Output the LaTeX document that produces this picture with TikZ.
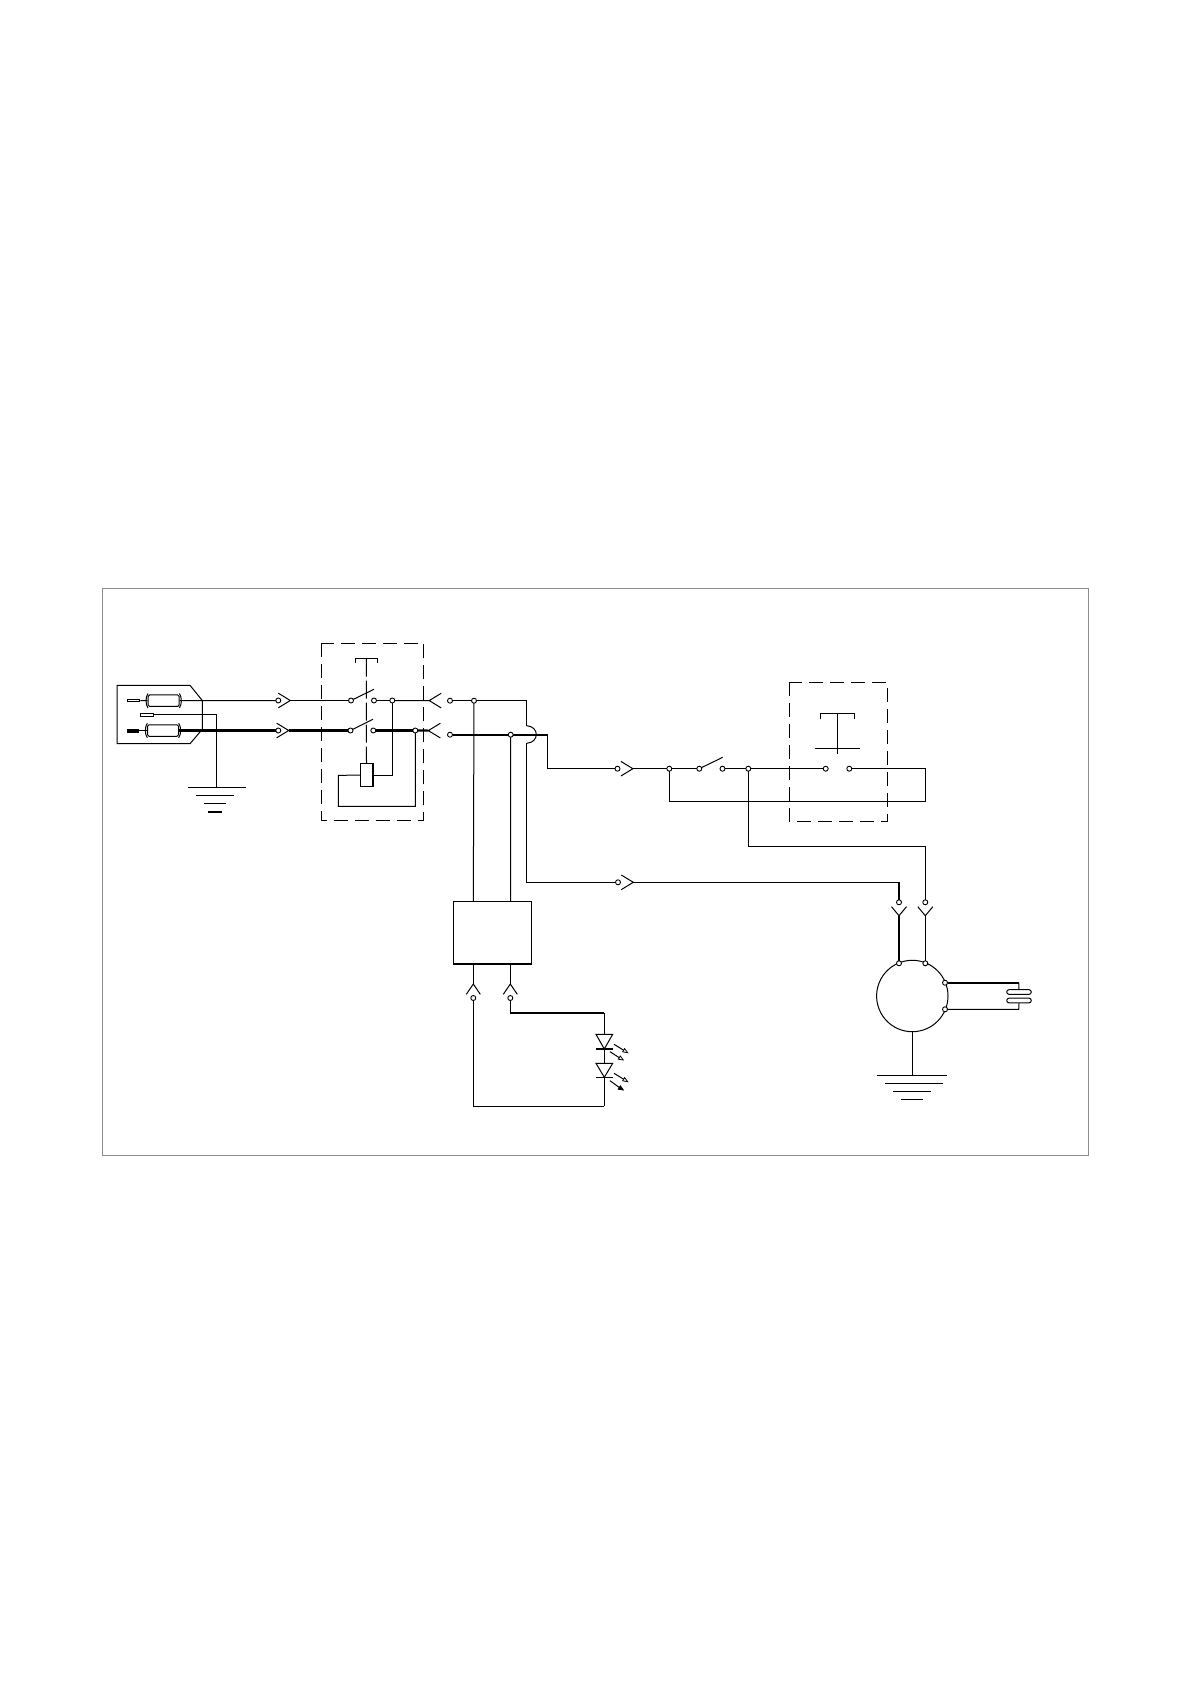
\documentclass[tikz,border=0pt]{standalone}
\usetikzlibrary{calc}
\tikzset{
  wire/.style={line width=1pt,black,line join=miter},
  fat/.style={line width=2.2pt,black},
  term/.style={circle,draw=black,fill=white,line width=0.9pt,inner sep=0pt,minimum size=5pt,outer sep=0pt},
  dashbox/.style={line width=1.1pt,black,dash pattern=on 14pt off 7pt},
  fusebox/.style={draw=black,line width=1pt,rounded corners=1.5pt,inner sep=0pt,minimum width=31pt,minimum height=11.5pt},
  pill/.style={draw=black,line width=1pt,rounded corners=2.2pt,inner sep=0pt,minimum width=24.5pt,minimum height=4.6pt},
  pin/.style={draw=black,line width=1pt,fill=white,inner sep=0pt,minimum width=12.5pt,minimum height=2.6pt},
  fatpin/.style={draw=black,fill=black,inner sep=0pt,minimum width=11.5pt,minimum height=3.6pt},
  coilbox/.style={draw=black,line width=1pt,inner sep=0pt,minimum width=12.4pt,minimum height=22.7pt},
  ctrlbox/.style={draw=black,line width=1pt,inner sep=0pt,minimum width=78pt,minimum height=61.4pt},
  motor/.style={circle,draw=black,line width=1pt,inner sep=0pt,minimum size=71.4pt},
  arr/.style={line width=1pt,black}
}
\newcommand{\chev}[2]{\draw[wire,shift={(#1)},rotate=#2] (-12,-7.3)--(0,0)--(-12,7.3);}
\newcommand{\ychev}[1]{\draw[wire,shift={(#1)}] (-7.5,-9)--(0,0)--(7.5,-9);}
\begin{document}
\begin{tikzpicture}[x=1pt,y=-1pt]
\useasboundingbox (0,0) rectangle (1192,1685);
\fill[white] (0,0) rectangle (1192,1685);
\draw[line width=1pt,color=black!45] (102.5,588.5) rectangle (1088.7,1155.5);

% plug block
\draw[wire] (190,685.3) -- (117,685.3) -- (117,743.7) -- (190,743.7) -- (202.3,729.3) -- (202.3,700.5) -- cycle;
\node[pin] (p1) at (133.7,700.5) {};
\node[pin] (p2) at (146.8,714.7) {};
\node[fatpin] (p3) at (132.8,730.5) {};
\node[fusebox] (f1) at (163.7,700.7) {};
\node[fusebox] (f2) at (163,730.5) {};
\foreach \f in {f1,f2}{
  \draw[wire] ($(\f.north west)+(0.3,-1)$) .. controls +(-2.6,3.5) and +(-2.6,-3.5) .. ($(\f.south west)+(0.3,1)$);
  \draw[wire] ($(\f.north east)+(-0.3,-1)$) .. controls +(2.6,3.5) and +(2.6,-3.5) .. ($(\f.south east)+(-0.3,1)$);
}
\draw[wire] (p1) -- (f1);
\draw[wire] (p3) -- (f2);

% ground 1
\coordinate (g1) at (216.3,787);
\draw[wire] (p2) -| (g1);
\draw[wire] (188,787) -- (245.7,787);
\draw[wire] (196.3,795.2) -- (234,795.2);
\draw[wire] (204,803.3) -- (225.7,803.3);
\draw[fat] (208.3,811.7) -- (221.7,811.7);

% terminals first row
\node[term] (t1) at (278.3,700.5) {};
\node[term] (t2) at (278.3,730.5) {};
\coordinate (c1) at (290.3,700.5);
\coordinate (c2) at (288.7,730.5);
\chev{c1}{0}
\chev{c2}{0}
\draw[wire] (f1.east) -- (t1);
\draw[fat] (f2.east) -- (t2);

% main switch box
\draw[dashbox] (321.7,643.3) rectangle (423.7,820.3);
\draw[wire] (355,662.7) -- (355,658.7) -- (377.3,658.7) -- (377.3,662.7);
\coordinate (stemTop) at (366.3,658.7);
\node[coilbox,anchor=north] (coil) at (366.5,763.3) {};
\draw[line width=1pt,black,dash pattern=on 18pt off 4pt] (stemTop) -- (coil.north);
\draw[fat] (coil.north east) -- (coil.south east);

\node[term] (s1a) at (351,700.5) {};
\node[term] (s1b) at (374,700.5) {};
\node[term] (s2a) at (350.5,730.5) {};
\node[term] (s2b) at (373.3,730.5) {};
\node[term] (j1) at (392.3,700.5) {};
\node[term] (j2) at (415.3,730.5) {};
\coordinate (b1) at (374,689.3);
\coordinate (b2) at (373,719.3);
\draw[wire] (s1a) -- (b1);
\draw[wire] (s2a) -- (b2);
\draw[wire] (c1) -- (s1a);
\draw[fat] (c2) -- (s2a);
\draw[wire] (s1b) -- (j1);
\draw[fat] (s2b) -- (j2);

\coordinate (o1) at (429.2,700.6);
\coordinate (o2) at (428.3,730.6);
\draw[wire] (j1) -- (o1);
\draw[fat] (j2) -- (o2);
\chev{o1}{180}
\chev{o2}{180}
\coordinate (l1) at (338.3,775.3);
\coordinate (l2) at (338.3,806.3);
\draw[wire] (coil.west) -- (l1) -- (l2) -| (j2);
\draw[wire] (coil.east) -| (j1);

% after the box
\node[term] (t3) at (450,700.7) {};
\node[term] (t4) at (450,734.7) {};
\node[term] (j3) at (474,700.7) {};
\node[term] (j4) at (510.7,734.7) {};
\draw[wire] (t3) -- (j3);
\draw[fat] (t4) -- (j4);
\coordinate (r1) at (526.7,700.7);
\coordinate (hopA) at (526.7,725.7);
\coordinate (hopB) at (526.7,743.3);
\coordinate (r2) at (547.7,734.7);
\coordinate (r3) at (547.7,768.7);
\draw[wire] (j3) -- (r1) -- (hopA);
\draw[wire] (hopA) .. controls (539.5,726.5) and (539.5,742.5) .. (hopB);
\draw[fat] (j4) -- (r2);
\node[term] (t5) at (617.5,768.7) {};
\coordinate (c5) at (632.9,768.7);
\chev{c5}{0}
\draw[wire] (r2) -- (r3) -- (t5);
\node[term] (t6) at (618,882.3) {};
\coordinate (c6) at (633.3,882.3);
\chev{c6}{0}
\draw[wire] (hopB) |- (t6);

% second line
\node[term] (j5) at (669.3,768.7) {};
\node[term] (s3a) at (699.3,768.7) {};
\node[term] (s3b) at (722.5,768.7) {};
\node[term] (j6) at (748.3,768.7) {};
\node[term] (s4a) at (825.7,768.7) {};
\node[term] (s4b) at (849.3,768.7) {};
\coordinate (b3) at (722.7,757.3);
\draw[wire] (c5) -- (j5);
\draw[wire] (j5) -- (s3a);
\draw[wire] (s3a) -- (b3);
\draw[wire] (s3b) -- (j6);
\draw[wire] (j6) -- (s4a);
\coordinate (rr) at (925.7,768.7);
\coordinate (rb) at (925.7,801.3);
\draw[wire] (s4b) -- (rr) -- (rb) -| (j5);

% second dashed box
\draw[dashbox] (789.3,682.3) rectangle (887.7,821.3);
\draw[wire] (820,719.3) -- (820,713.3) -- (854.3,713.3) -- (854.3,719.3);
\draw[wire] (837.3,713.3) -- (837.3,754.3);
\draw[wire] (814.7,748.3) -- (860,748.3);

% motor
\node[motor] (m) at (912.3,996) {};
\node[term] (m1) at (899,963.3) {};
\node[term] (m2) at (925.3,963.3) {};
\node[term] (m3) at (945,982.7) {};
\node[term] (m4) at (945,1009.3) {};
\node[term] (t7) at (899,902.3) {};
\node[term] (t8) at (925.3,902.3) {};
\coordinate (y1) at (899,915.7);
\coordinate (y2) at (925.3,915.7);
\ychev{y1}
\ychev{y2}
\coordinate (w7) at (899,882.3);
\draw[wire] (c6) -- (w7);
\draw[fat] (w7) -- (t7);
\draw[fat] (y1) -- (m1);
\draw[wire] (y2) -- (m2);
\coordinate (w8) at (925.3,846.3);
\draw[wire] (j6) |- (w8) -- (t8);

% capacitor
\node[pill] (cp1) at (1019,992) {};
\node[pill] (cp2) at (1019,1000.5) {};
\coordinate (k1) at (1018.7,982.7);
\coordinate (k2) at (1018.7,1009.3);
\draw[fat] (m3) -- (k1);
\draw[wire] (k1) -- (cp1.north);
\draw[wire] (m4) -- (k2) -- (cp2.south);

% ground 2
\coordinate (g2) at (912.3,1075.3);
\draw[wire] (m.south) -- (g2);
\draw[wire] (876.7,1075.3) -- (947,1075.3);
\draw[wire] (885,1083.3) -- (942.7,1083.3);
\draw[wire] (893,1091.3) -- (930.7,1091.3);
\draw[wire] (901,1099.3) -- (922.7,1099.3);

% control box
\node[ctrlbox,anchor=north west] (box) at (453.3,901.3) {};
\draw[fat] (box.south west) -- (box.south east);
\coordinate (bi1) at (473.3,901.3);
\coordinate (bi2) at (510.5,901.3);
\draw[wire] (j3) -- (bi1);
\draw[wire] (j4) -- (bi2);
\coordinate (up1) at (473.3,984);
\coordinate (up2) at (510.3,984);
\coordinate (bo1) at (473.3,962.7);
\coordinate (bo2) at (510.3,962.7);
\draw[wire] (bo1) -- (up1);
\draw[wire] (bo2) -- (up2);
\draw[wire,shift={(up1)}] (-7,10.3)--(0,0)--(7,10.3);
\draw[wire,shift={(up2)}] (-7,10.3)--(0,0)--(7,10.3);
\node[term] (t9) at (473.3,998) {};
\node[term] (t10) at (510.3,998) {};

% LEDs
\coordinate (ledA) at (604.3,1034.3);
\coordinate (ledB) at (604.3,1049);
\coordinate (ledC) at (604.3,1063.3);
\coordinate (ledD) at (604.3,1077.3);
\coordinate (lt) at (604.3,1013);
\coordinate (ll) at (604.3,1106.3);
\coordinate (lt0) at (510.3,1013);
\draw[wire] (t10) -- (lt0);
\draw[fat] (lt0) -- (lt);
\draw[wire] (lt) -- (ledA);
\draw[wire] (596,1034.3) -- (612.7,1034.3) -- (ledB) -- cycle;
\draw[fat] (596,1049) -- (612.7,1049);
\draw[wire] (ledB) -- (ledC);
\draw[wire] (596,1063.3) -- (612.7,1063.3) -- (ledD) -- cycle;
\draw[wire] (596,1077.3) -- (612.7,1077.3);
\draw[wire] (ledD) -- (ll);
\draw[wire] (t9) |- (ll);
\draw[arr] (614,1044.3) -- (624,1050.4);
\draw[line width=.8pt,fill=white] (627.7,1052.7) -- (622.6,1051.8) -- (624.6,1048.6) -- cycle;
\draw[arr] (610,1051.7) -- (619.6,1057.9);
\draw[line width=.8pt,fill=white] (623.3,1060) -- (618.3,1059.2) -- (620.3,1056) -- cycle;
\draw[arr] (614,1073.3) -- (624,1079.4);
\draw[line width=.8pt,fill=white] (627.7,1081.7) -- (622.6,1080.8) -- (624.6,1077.6) -- cycle;
\draw[arr] (610,1080.7) -- (619.6,1087.7);
\draw[line width=.8pt,fill=black] (623.3,1090) -- (618.2,1089.2) -- (620.4,1085.8) -- cycle;
\end{tikzpicture}
\end{document}
